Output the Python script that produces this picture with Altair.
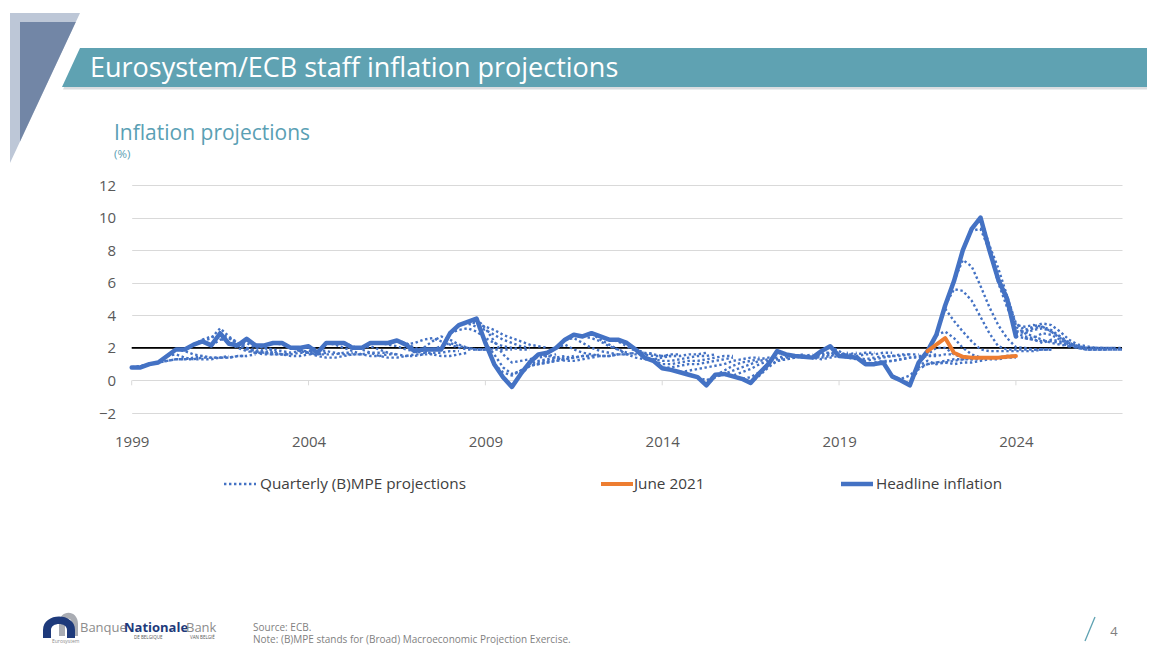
import altair as alt
import pandas as pd

# ---------------- data ----------------
# Quarterly values, plotted at quarter end; index 0 = 1998Q4 (drawn at 1999.0)
headline = [0.8, 0.8, 1.0, 1.1, 1.5,
            1.9, 1.9, 2.2, 2.4,
            2.15, 2.9, 2.25, 2.15,
            2.55, 2.15, 2.15, 2.3,
            2.3, 2.0, 2.0, 2.1,
            1.7, 2.3, 2.3, 2.3,
            2.0, 2.0, 2.3, 2.3,
            2.3, 2.45, 2.2, 1.8,
            1.9, 1.9, 1.9, 2.9,
            3.4, 3.6, 3.8, 2.3,
            1.0, 0.2, -0.4, 0.4,
            1.1, 1.6, 1.7, 2.0,
            2.5, 2.8, 2.7, 2.9,
            2.7, 2.5, 2.5, 2.3,
            1.9, 1.4, 1.2, 0.75,
            0.65, 0.5, 0.35, 0.2,
            -0.3, 0.35, 0.4, 0.25,
            0.1, -0.15, 0.45, 1.0,
            1.8, 1.6, 1.5, 1.45,
            1.4, 1.8, 2.1, 1.5,
            1.45, 1.4, 1.0, 1.0,
            1.1, 0.25, 0.0, -0.3,
            1.1, 1.8, 2.8, 4.6,
            6.1, 8.0, 9.3, 10.0,
            8.0, 6.2, 5.0, 2.7]

june_2021_start = 90
june_2021 = [1.8, 2.2, 2.6, 1.7, 1.45, 1.4, 1.4, 1.4, 1.4, 1.45, 1.5]

# projection vintages: (first quarter index, quarterly path)
proj_1999_2004 = [
    (0, [0.8, 0.9, 1.0, 1.1, 1.2, 1.3, 1.3, 1.4, 1.5]),
    (2, [1.0, 1.1, 1.2, 1.3, 1.3, 1.3, 1.4, 1.4, 1.4, 1.5]),
    (4, [1.5, 1.6, 1.4, 1.3, 1.3, 1.3, 1.4, 1.4, 1.5, 1.5]),
    (5, [1.9, 1.8, 1.6, 1.5, 1.4, 1.4, 1.4, 1.5, 1.5, 1.6]),
    (6, [1.9, 2.2, 2.5, 2.7, 2.6, 2.3, 2.0, 1.8, 1.7, 1.7]),
    (8, [2.4, 2.6, 3.2, 2.7, 2.3, 2.0, 1.8, 1.7, 1.7]),
    (9, [2.15, 2.5, 2.6, 2.3, 2.0, 1.8, 1.7, 1.6, 1.6, 1.6]),
    (10, [2.9, 2.6, 2.2, 1.9, 1.7, 1.6, 1.6, 1.6, 1.7]),
    (12, [2.15, 2.3, 2.0, 1.8, 1.7, 1.6, 1.6, 1.7, 1.7, 1.8]),
    (13, [2.55, 2.2, 2.0, 1.9, 1.8, 1.7, 1.8, 1.8, 1.8]),
    (14, [2.15, 2.0, 1.8, 1.6, 1.5, 1.5, 1.6, 1.6, 1.7]),
    (16, [2.3, 2.2, 2.0, 1.8, 1.7, 1.6, 1.6, 1.6, 1.7, 1.7]),
    (18, [2.0, 1.9, 1.7, 1.5, 1.4, 1.4, 1.5, 1.6, 1.6]),
    (20, [2.1, 1.9, 1.8, 1.7, 1.6, 1.6, 1.6, 1.7, 1.7, 1.7]),
]
proj_2005_2010 = [
    (22, [2.3, 2.2, 2.0, 1.8, 1.6, 1.5, 1.5, 1.6, 1.6]),
    (24, [2.3, 2.1, 1.9, 1.7, 1.5, 1.4, 1.4, 1.5, 1.6, 1.6]),
    (26, [2.0, 2.1, 1.9, 1.7, 1.6, 1.5, 1.5, 1.6, 1.6]),
    (28, [2.3, 2.2, 2.1, 1.9, 1.8, 1.7, 1.7, 1.7, 1.8, 1.8]),
    (30, [2.45, 2.3, 2.0, 1.8, 1.6, 1.5, 1.5, 1.6, 1.7]),
    (31, [2.2, 2.3, 2.5, 2.6, 2.4, 2.2, 2.0, 1.9, 1.9, 1.9]),
    (32, [1.8, 2.0, 2.4, 2.7, 2.5, 2.2, 2.0, 1.9, 1.9, 2.0]),
    (34, [1.9, 2.1, 2.3, 2.1, 2.0, 1.9, 1.9, 1.9, 1.9, 1.9]),
    (36, [2.9, 3.1, 3.2, 3.0, 2.6, 2.3, 2.1, 2.0, 1.9, 1.9]),
    (37, [3.4, 3.5, 3.3, 3.1, 2.8, 2.5, 2.3, 2.1, 2.0]),
    (38, [3.6, 3.5, 3.3, 3.1, 2.8, 2.6, 2.4, 2.2, 2.1, 2.0]),
    (39, [3.8, 3.2, 2.4, 1.6, 1.1, 1.2, 1.3, 1.4, 1.5, 1.6]),
    (40, [2.3, 1.6, 0.8, 0.4, 0.6, 1.0, 1.2, 1.3, 1.4, 1.5]),
    (41, [1.0, 0.5, 0.3, 0.6, 0.9, 1.1, 1.2, 1.3, 1.4, 1.5]),
    (43, [-0.4, 0.4, 0.9, 1.0, 1.1, 1.2, 1.3, 1.4, 1.5, 1.5]),
    (44, [0.4, 0.9, 1.0, 1.1, 1.2, 1.3, 1.4, 1.5, 1.5, 1.6]),
]
proj_2011_2016 = [
    (46, [1.6, 1.5, 1.4, 1.2, 1.2, 1.3, 1.4, 1.5, 1.5, 1.6]),
    (48, [2.0, 2.2, 1.9, 1.7, 1.6, 1.5, 1.5, 1.6, 1.6]),
    (49, [2.5, 2.6, 2.3, 2.0, 1.8, 1.7, 1.6, 1.6, 1.7, 1.7]),
    (51, [2.7, 2.6, 2.4, 2.1, 1.9, 1.7, 1.6, 1.6, 1.7]),
    (52, [2.9, 2.5, 2.2, 1.9, 1.6, 1.4, 1.3, 1.3, 1.4, 1.5]),
    (54, [2.5, 2.4, 2.1, 1.8, 1.6, 1.5, 1.5, 1.6, 1.6]),
    (56, [2.3, 1.9, 1.7, 1.6, 1.5, 1.5, 1.5, 1.6, 1.6, 1.7]),
    (57, [1.9, 1.4, 1.3, 1.2, 1.2, 1.3, 1.4, 1.5, 1.5, 1.6]),
    (59, [1.2, 1.0, 1.0, 1.1, 1.2, 1.2, 1.3, 1.4, 1.5, 1.5]),
    (60, [0.75, 0.8, 0.9, 1.0, 1.0, 1.1, 1.2, 1.3, 1.4]),
    (62, [0.5, 0.6, 0.7, 0.8, 0.9, 1.0, 1.2, 1.3, 1.4, 1.4]),
    (64, [0.2, 0.0, 0.3, 0.6, 0.9, 1.1, 1.2, 1.3, 1.4, 1.5]),
    (65, [-0.3, 0.2, 0.4, 0.6, 0.8, 1.0, 1.2, 1.3, 1.4, 1.5]),
    (67, [0.35, 0.3, 0.5, 0.7, 1.0, 1.2, 1.3, 1.4, 1.5, 1.6]),
    (68, [0.25, 0.1, 0.2, 0.5, 0.9, 1.2, 1.3, 1.4, 1.5, 1.6]),
    (70, [-0.15, 0.3, 0.8, 1.2, 1.3, 1.4, 1.5, 1.5, 1.6, 1.7]),
]
proj_2017_2021 = [
    (72, [1.0, 1.7, 1.6, 1.5, 1.4, 1.4, 1.5, 1.6, 1.6, 1.7]),
    (73, [1.8, 1.6, 1.5, 1.4, 1.4, 1.4, 1.5, 1.6, 1.6, 1.7]),
    (75, [1.5, 1.4, 1.4, 1.3, 1.4, 1.5, 1.6, 1.6, 1.7, 1.7]),
    (77, [1.4, 1.7, 1.7, 1.6, 1.5, 1.5, 1.6, 1.6, 1.7, 1.7]),
    (79, [2.1, 1.8, 1.5, 1.4, 1.3, 1.4, 1.5, 1.5, 1.6, 1.6]),
    (80, [1.5, 1.4, 1.3, 1.2, 1.3, 1.4, 1.5, 1.5, 1.6, 1.6]),
    (82, [1.4, 1.0, 1.1, 1.2, 1.2, 1.3, 1.4, 1.5, 1.5, 1.6]),
    (84, [1.0, 1.1, 1.2, 1.3, 1.4, 1.4, 1.5, 1.5, 1.6, 1.6]),
    (86, [0.25, 0.1, 0.3, 0.8, 1.0, 1.1, 1.2, 1.3, 1.3, 1.4]),
    (87, [0.0, -0.2, 0.7, 1.0, 1.1, 1.1, 1.2, 1.3, 1.3, 1.4, 1.4]),
    (88, [-0.3, 0.9, 1.2, 1.0, 1.1, 1.0, 1.1, 1.1, 1.2, 1.3, 1.3, 1.4, 1.4]),
    (89, [1.1, 1.6, 2.0, 2.0, 1.6, 1.4, 1.3, 1.3, 1.4, 1.4, 1.5, 1.5]),
]
proj_2021_2024 = [
    (91, [2.8, 3.0, 2.6, 2.0, 1.6, 1.4, 1.4, 1.4, 1.5, 1.5]),
    (92, [4.4, 3.65, 3.0, 2.4, 1.9, 1.8, 1.8, 1.8, 1.8, 1.8, 1.8, 1.9, 1.9]),
    (92, [4.6, 5.6, 5.5, 4.9, 3.9, 2.9, 2.1, 1.9, 1.9, 1.9, 1.9, 1.9, 1.9]),
    (93, [6.1, 7.4, 7.0, 5.8, 4.5, 3.4, 2.6, 2.05, 2.0, 1.9, 1.9, 1.9]),
    (94, [8.0, 9.2, 9.3, 8.0, 6.0, 4.5, 3.3, 2.9, 2.7, 2.5, 2.3, 2.2, 2.1]),
    (95, [9.3, 10.0, 8.3, 6.9, 5.2, 3.4, 3.3, 3.4, 3.3, 3.0, 2.6, 2.3, 2.1, 2.0]),
    (96, [10.0, 8.0, 6.1, 4.9, 3.0, 3.0, 3.2, 3.3, 3.1, 2.7, 2.3, 2.1, 2.0, 2.0, 2.0]),
    (97, [8.0, 6.2, 5.2, 3.5, 3.1, 3.3, 3.5, 3.4, 3.0, 2.5, 2.2, 2.1, 2.0, 2.0, 2.0]),
    (98, [6.2, 5.0, 3.0, 2.9, 3.1, 3.2, 3.0, 2.7, 2.3, 2.1, 2.0, 2.0, 2.0, 2.0]),
    (99, [5.0, 2.9, 2.7, 2.6, 2.9, 2.8, 2.5, 2.2, 2.0, 1.9, 1.9, 1.9, 1.9, 1.9]),
    (100, [2.7, 2.6, 2.5, 2.3, 2.5, 2.4, 2.2, 2.0, 1.9, 1.9, 1.9, 1.9, 1.9]),
    (101, [2.6, 2.5, 2.4, 2.4, 2.3, 2.1, 2.0, 1.9, 1.9, 1.9, 2.0, 2.0]),
]

tick_years = [1999, 2004, 2009, 2014, 2019, 2024]
y_ticks = [-2, 0, 2, 4, 6, 8, 10, 12]
target_line = 2

# ---------------- tables ----------------
def qx(i):
    return 1999 + i / 4

head_df = pd.DataFrame({"t": [qx(i) for i in range(len(headline))], "v": headline})
june_df = pd.DataFrame({"t": [qx(june_2021_start + j) for j in range(len(june_2021))], "v": june_2021})
rows = []
vid = 0
for group in (proj_1999_2004, proj_2005_2010, proj_2011_2016, proj_2017_2021, proj_2021_2024):
    for start, vals in group:
        for j, v in enumerate(vals):
            rows.append({"vintage": vid, "t": qx(start + j), "v": v})
        vid += 1
proj_df = pd.DataFrame(rows)
tick_df = pd.DataFrame({"t": tick_years, "v": [0] * len(tick_years), "v2": [-0.3] * len(tick_years)})
target_df = pd.DataFrame({"v": [target_line]})
dummy = pd.DataFrame({"a": [0]})

# ---------------- style / layout ----------------
FONT = "Open Sans"
BLUE = "#4472C4"
ORANGE = "#ED7D31"
TEAL = "#5FA2B2"
GREY_TXT = "#595959"
OX, OY = 131.7, 185.0  # page position of plot origin
PW, PH = 990.3, 228.0
DOT = [2.4, 2.6]

xs = alt.Scale(domain=[1999, 2027], nice=False, zero=False)
ys = alt.Scale(domain=[-2, 12], nice=False, zero=False)
xaxis = alt.Axis(values=tick_years, format="d", grid=False, domain=False, ticks=False, tickSize=0,
                 labelPadding=21, labelFontSize=15, labelColor=GREY_TXT, labelFont=FONT,
                 labelFlush=False, title=None)
yaxis = alt.Axis(values=y_ticks, grid=True, gridColor="#D9D9D9", gridWidth=1, domain=False,
                 ticks=False, tickSize=0, labelPadding=16, labelFontSize=15, labelColor=GREY_TXT,
                 labelFont=FONT, title=None)
X = alt.X("t:Q", scale=xs, axis=xaxis)
Y = alt.Y("v:Q", scale=ys, axis=yaxis)


def rx(px):
    return px - OX


def ry(py):
    return py - OY


def polygon(points, color):
    d = "M" + " L".join(f"{x - OX:.1f},{y - OY:.1f}" for x, y in points) + " Z"
    return alt.Chart(dummy).mark_point(shape=d, size=4, filled=True, color=color, opacity=1,
                                       strokeWidth=0).encode(x=alt.value(0), y=alt.value(0))


def path_shape(d, ax, ay, color):
    return alt.Chart(dummy).mark_point(shape=d, size=4, filled=True, color=color, opacity=1,
                                       strokeWidth=0).encode(x=alt.value(rx(ax)), y=alt.value(ry(ay)))


def text(s, px, py, size, color, align="left", weight="normal", baseline="alphabetic"):
    return alt.Chart(dummy).mark_text(text=s, align=align, baseline=baseline, font=FONT, fontSize=size,
                                      color=color, fontWeight=weight).encode(
        x=alt.value(rx(px)), y=alt.value(ry(py)))


def hrule(x1, x2, py, color, width, dash=None):
    kw = dict(color=color, strokeWidth=width, strokeCap="butt")
    if dash:
        kw["strokeDash"] = dash
    return alt.Chart(dummy).mark_rule(**kw).encode(
        x=alt.value(rx(x1)), x2=alt.value(rx(x2)), y=alt.value(ry(py)))


# decorations
deco = [
    polygon([(10, 13), (80, 13), (10, 163)], "#BDC7D7"),
    polygon([(20, 22), (75.8, 22), (20, 141.5)], "#7286A6"),
    polygon([(81, 50), (1160, 50), (1160, 89.5), (63, 89.5)], "#DADDE0"),
    polygon([(80, 48), (1160, 48), (1160, 87), (62, 87)], TEAL),
    text("Eurosystem/ECB staff inflation projections", 90, 77, 27, "white"),
    text("Inflation projections", 114, 139.5, 21, "#5AA0B4"),
    text("(%)", 114, 158, 11.5, "#5AA0B4"),
]

# plot layers
ticks = alt.Chart(tick_df).mark_rule(color="#D9D9D9", strokeWidth=1).encode(x=X, y=Y, y2="v2:Q")
target = alt.Chart(target_df).mark_rule(color="black", strokeWidth=1.8).encode(y=Y)
proj = alt.Chart(proj_df).mark_line(color=BLUE, strokeWidth=2.4, strokeDash=DOT, strokeCap="butt").encode(
    x=X, y=Y, detail="vintage:N")
head = alt.Chart(head_df).mark_line(color=BLUE, strokeWidth=4.5, strokeJoin="round", strokeCap="round").encode(
    x=X, y=Y)
june = alt.Chart(june_df).mark_line(color=ORANGE, strokeWidth=4, strokeJoin="round", strokeCap="round").encode(
    x=X, y=Y)

# legend
legend = [
    hrule(224, 256, 484, BLUE, 2.4, DOT),
    text("Quarterly (B)MPE projections", 260, 484, 15.3, "#404040", baseline="middle"),
    hrule(601, 633, 484, ORANGE, 4),
    text("June 2021", 634, 484, 15.3, "#404040", baseline="middle"),
    hrule(841, 873, 484, BLUE, 4.5),
    text("Headline inflation", 876, 484, 15.3, "#404040", baseline="middle"),
]

# footer
arch_grey = "M-9,0 L-9,-12 C-9,-27 10,-27 10,-12 L10,0 L4,0 L4,-12 C4,-19 -3,-19 -3,-12 L-3,0 Z"
arch_navy = "M-16,0 L-16,-8 C-16,-26 16,-26 16,-8 L16,0 L8,0 L8,-8 C8,-16 -8,-16 -8,-8 L-8,0 Z"
footer = [
    path_shape(arch_grey, 68, 636, "#A9ACB3"),
    path_shape(arch_navy, 59, 638, "#1E3A7B"),
    text("Banque", 80, 632, 13, "#8C8C8C"),
    text("Nationale", 124, 632, 13, "#1E3A7B", weight="bold"),
    text("Bank", 186, 632, 13, "#8C8C8C"),
    text("DE BELGIQUE", 134, 639, 4.5, "#555555"),
    text("VAN BELGIË", 190, 639, 4.5, "#555555"),
    text("Eurosystem", 52, 643, 5, "#8C8C8C"),
    text("Source: ECB.", 253, 630.5, 10, "#7F7F7F"),
    text("Note: (B)MPE stands for (Broad) Macroeconomic Projection Exercise.", 253, 642.5, 10, "#7F7F7F"),
    text("4", 1114, 636, 13, "#7F7F7F", align="center"),
    alt.Chart(dummy).mark_rule(color=TEAL, strokeWidth=1.3).encode(
        x=alt.value(rx(1085)), x2=alt.value(rx(1095)), y=alt.value(ry(641)), y2=alt.value(ry(617))),
]

chart = alt.layer(
    ticks, target, proj, head, june, *deco, *legend, *footer
).properties(
    width=PW, height=PH,
    padding={"left": OX - 8, "top": OY - 8, "right": 1139 - (OX - 8) - PW, "bottom": 637 - (OY - 8) - PH},
    autosize="none",
).configure_view(stroke=None)

chart.save("out.html", embed_options={"renderer": "svg", "actions": False})
